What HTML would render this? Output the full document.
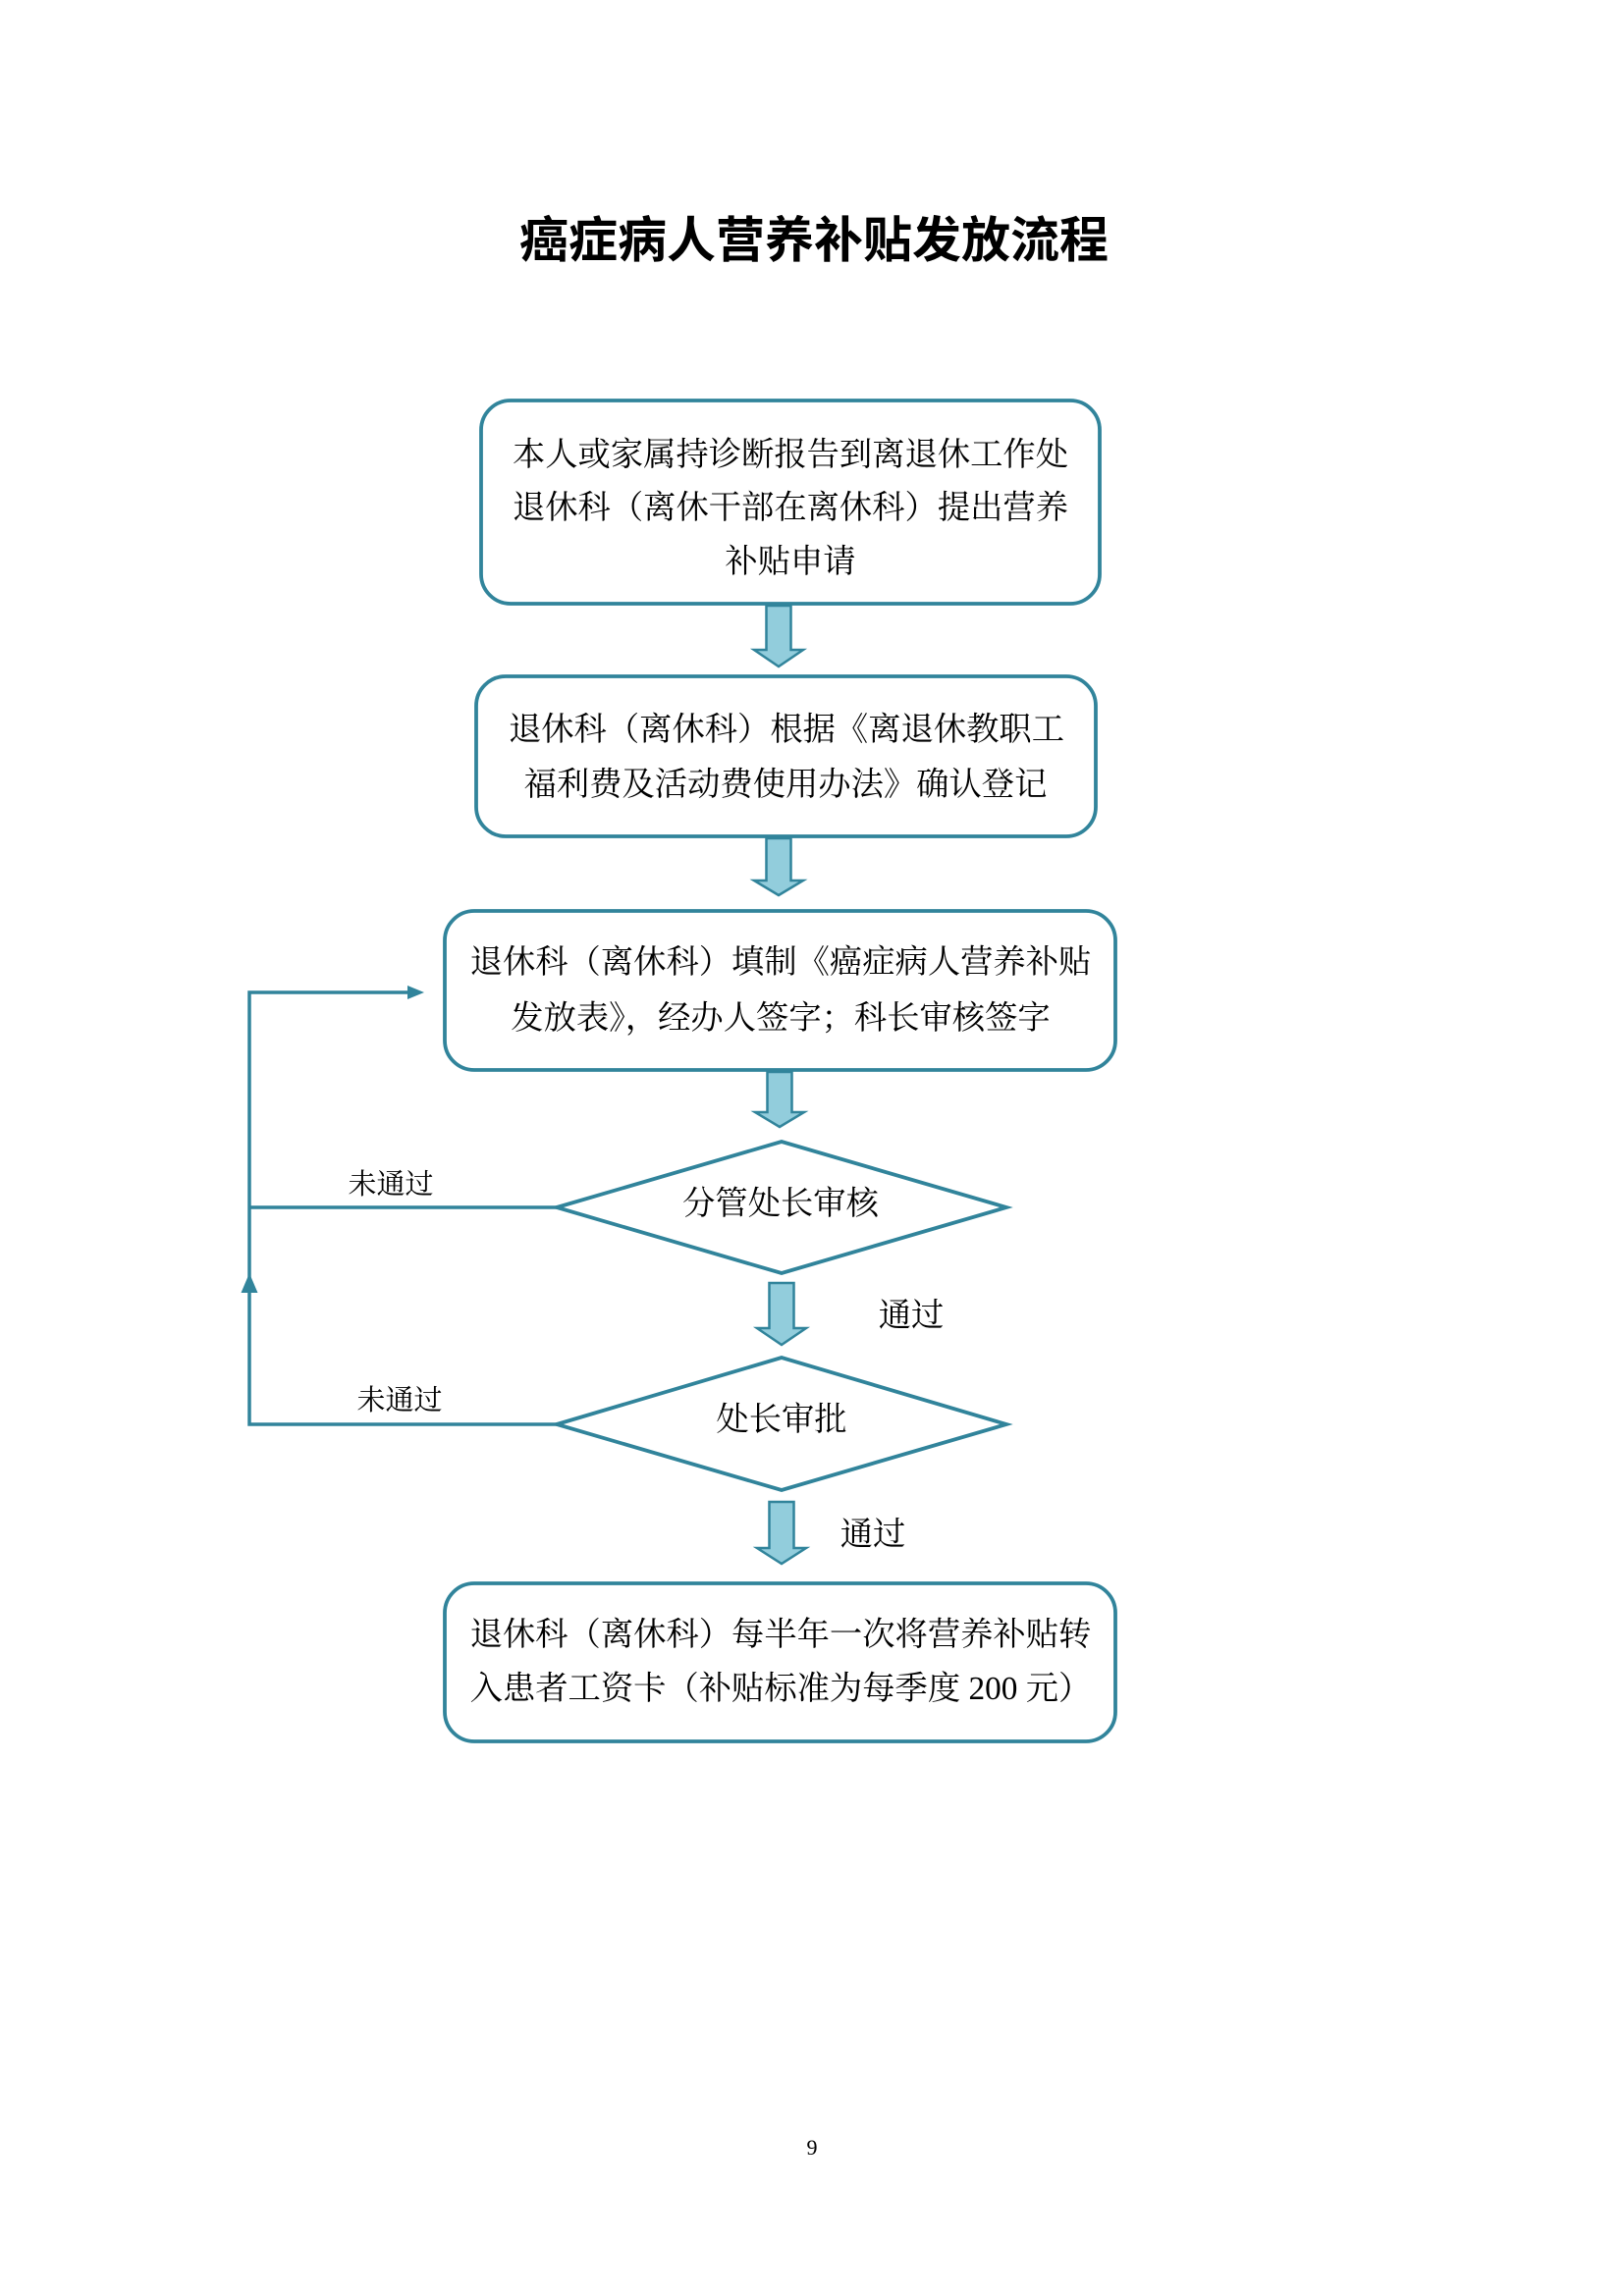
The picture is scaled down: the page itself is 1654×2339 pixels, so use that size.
<!DOCTYPE html>
<html>
<head>
<meta charset="utf-8">
<style>
  html, body { margin: 0; padding: 0; background: #ffffff; }
  body { width: 1654px; height: 2339px; overflow: hidden; }
  svg { display: block; }
  .t { font-family: "Liberation Serif", "Noto Serif CJK SC", serif; fill: #000; }
  .title { font-family: "Liberation Sans", "Noto Sans CJK SC", sans-serif; font-weight: 700; fill: #000; }
</style>
</head>
<body>
<svg width="1654" height="2339" viewBox="0 0 1654 2339" xmlns="http://www.w3.org/2000/svg">
  <rect x="0" y="0" width="1654" height="2339" fill="#ffffff"/>

  <!-- Title -->
  <text class="title" x="829" y="262" font-size="50" text-anchor="middle">癌症病人营养补贴发放流程</text>

  <!-- Block arrows -->
  <g fill="#92CDDC" stroke="#31849B" stroke-width="2.5" stroke-linejoin="miter">
    <path d="M780.5,617 L805.5,617 L805.5,662 L818,662 L793,679 L768,662 L780.5,662 Z"/>
    <path d="M780.5,854 L805.5,854 L805.5,897 L818,897 L793,912 L768,897 L780.5,897 Z"/>
    <path d="M781.5,1092 L806.5,1092 L806.5,1133 L819,1133 L794,1148 L769,1133 L781.5,1133 Z"/>
    <path d="M783.5,1307 L808.5,1307 L808.5,1353 L821,1353 L796,1370 L771,1353 L783.5,1353 Z"/>
    <path d="M783.5,1530 L808.5,1530 L808.5,1577 L821,1577 L796,1593 L771,1577 L783.5,1577 Z"/>
  </g>

  <!-- Boxes -->
  <g fill="#ffffff" stroke="#31849B" stroke-width="3.8">
    <rect x="490" y="408" width="630" height="207" rx="30" ry="30"/>
    <rect x="485" y="689" width="631" height="163" rx="30" ry="30"/>
    <rect x="453" y="928" width="683" height="162" rx="30" ry="30"/>
    <rect x="453" y="1613" width="683" height="161" rx="30" ry="30"/>
    <polygon points="567,1230 796,1163 1025,1230 796,1297"/>
    <polygon points="567,1451 796,1383 1025,1451 796,1518"/>
  </g>

  <!-- Feedback connectors -->
  <g fill="none" stroke="#31849B" stroke-width="3.5" stroke-linejoin="miter">
    <polyline points="567,1230 254,1230"/>
    <polyline points="567,1451 254,1451 254,1011 418,1011"/>
  </g>
  <g fill="#31849B" stroke="none">
    <polygon points="415,1004 432,1011 415,1018"/>
    <polygon points="254,1297 245.5,1317 262.5,1317"/>
  </g>

  <!-- Box 1 text -->
  <text class="t" font-size="33.3" text-anchor="middle" x="805" y="474">本人或家属持诊断报告到离退休工作处</text>
  <text class="t" font-size="33.3" text-anchor="middle" x="805" y="528">退休科（离休干部在离休科）提出营养</text>
  <text class="t" font-size="33.3" text-anchor="middle" x="805" y="583">补贴申请</text>

  <!-- Box 2 text -->
  <text class="t" font-size="33.3" text-anchor="middle" x="801" y="754">退休科（离休科）根据《离退休教职工</text>
  <text class="t" font-size="33.3" text-anchor="middle" x="800" y="810">福利费及活动费使用办法》确认登记</text>

  <!-- Box 3 text -->
  <text class="t" font-size="33.3" text-anchor="middle" x="795" y="991">退休科（离休科）填制《癌症病人营养补贴</text>
  <text class="t" font-size="33.3" text-anchor="middle" x="795" y="1048">发放表》，经办人签字；科长审核签字</text>

  <!-- Diamonds text -->
  <text class="t" font-size="33.3" text-anchor="middle" x="795" y="1237">分管处长审核</text>
  <text class="t" font-size="33.3" text-anchor="middle" x="796" y="1457">处长审批</text>

  <!-- Labels -->
  <text class="t" font-size="29" text-anchor="middle" x="398" y="1216">未通过</text>
  <text class="t" font-size="29" text-anchor="middle" x="407" y="1436">未通过</text>
  <text class="t" font-size="33.3" text-anchor="middle" x="928" y="1351">通过</text>
  <text class="t" font-size="33.3" text-anchor="middle" x="889" y="1574">通过</text>

  <!-- Box 4 text -->
  <text class="t" font-size="33.3" text-anchor="middle" x="795" y="1676">退休科（离休科）每半年一次将营养补贴转</text>
  <text class="t" font-size="33.3" text-anchor="middle" x="795" y="1731">入患者工资卡（补贴标准为每季度 200 元）</text>

  <!-- Page number -->
  <text font-family="Liberation Serif, serif" font-size="22" text-anchor="middle" x="827" y="2195" fill="#000">9</text>
</svg>
</body>
</html>
